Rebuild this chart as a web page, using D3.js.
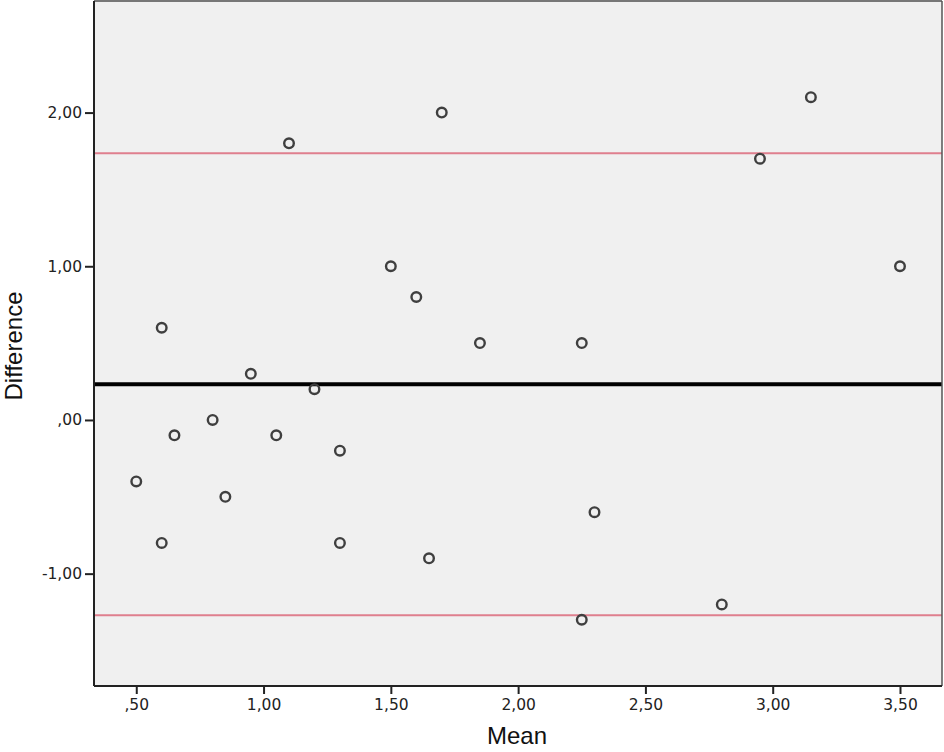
<!DOCTYPE html>
<html><head><meta charset="utf-8">
<script src="https://cdn.jsdelivr.net/npm/d3@7"></script>
<style>body{margin:0;background:#fff}</style>
</head><body>
<script>
const meanVals = [0.5,0.6,0.6,0.65,0.8,0.85,0.95,1.05,1.1,1.2,1.3,1.3,1.5,1.6,1.65,1.7,1.85,2.25,2.25,2.3,2.8,2.95,3.15,3.5];
const diffVals = [-0.4,0.6,-0.8,-0.1,0.0,-0.5,0.3,-0.1,1.8,0.2,-0.2,-0.8,1.0,0.8,-0.9,2.0,0.5,0.5,-1.3,-0.6,-1.2,1.7,2.1,1.0];
const meanDiff = 0.233;
const upperLoA = 1.735;
const lowerLoA = -1.27;
const xTicks = [0.5,1.0,1.5,2.0,2.5,3.0,3.5];
const yTicks = [-1,0,1,2];

const W=944,H=752;
const L=94,R=942,T=1,B=686;
const svg=d3.select("body").append("svg").attr("width",W).attr("height",H);
const x=d3.scaleLinear().domain([0.334,3.665]).range([L,R]);
const y=d3.scaleLinear().domain([-1.731,2.726]).range([B,T]);
const fmt=v=>{let s=d3.format(".2f")(v).replace("\u2212","-").replace(".",",");return s.replace(/^0,/,",").replace(/^-0,/,"-,");};

svg.append("rect").attr("x",L).attr("y",T).attr("width",R-L).attr("height",B-T).attr("fill","#f0f0f0");

const ref=[{v:upperLoA,c:"#df7f8e",w:2},{v:lowerLoA,c:"#df7f8e",w:2},{v:meanDiff,c:"#000",w:4}];
svg.selectAll("line.ref").data(ref).join("line").attr("class","ref")
 .attr("x1",L).attr("x2",R).attr("y1",d=>y(d.v)).attr("y2",d=>y(d.v))
 .attr("stroke",d=>d.c).attr("stroke-width",d=>d.w);

const pts=meanVals.map((m,i)=>({m,d:diffVals[i]}));
svg.selectAll("circle.pt").data(pts).join("circle").attr("class","pt")
 .attr("cx",d=>x(d.m)).attr("cy",d=>y(d.d)).attr("r",4.8)
 .attr("fill","none").attr("stroke","#3f3f3f").attr("stroke-width",2.4);

// frame
svg.append("line").attr("x1",L).attr("x2",R).attr("y1",T).attr("y2",T).attr("stroke","#777").attr("stroke-width",2);
svg.append("line").attr("x1",R).attr("x2",R).attr("y1",T).attr("y2",B).attr("stroke","#555").attr("stroke-width",1.5);
svg.append("line").attr("x1",L).attr("x2",R).attr("y1",B).attr("y2",B).attr("stroke","#222").attr("stroke-width",2);
svg.append("line").attr("x1",L).attr("x2",L).attr("y1",T).attr("y2",B).attr("stroke","#222").attr("stroke-width",2);

const xAxis=d3.axisBottom(x).tickValues(xTicks).tickFormat(fmt).tickSize(7).tickPadding(5);
const gx=svg.append("g").attr("transform",`translate(0,${B+1})`).call(xAxis);
gx.select(".domain").remove();
gx.selectAll(".tick line").attr("stroke","#222").attr("stroke-width",2);
gx.selectAll("text").attr("font-family","DejaVu Sans").attr("font-size",15.5).attr("fill","#222");

const yAxis=d3.axisLeft(y).tickValues(yTicks).tickFormat(fmt).tickSize(8).tickPadding(3);
const gy=svg.append("g").attr("transform",`translate(${L-1},0)`).call(yAxis);
gy.select(".domain").remove();
gy.selectAll(".tick line").attr("stroke","#222").attr("stroke-width",2);
gy.selectAll("text").attr("font-family","DejaVu Sans").attr("font-size",15.5).attr("fill","#222");

svg.append("text").attr("x",517).attr("y",744).attr("text-anchor","middle")
 .attr("font-family","Liberation Sans, Arial").attr("font-size",24).attr("fill","#111").text("Mean");
svg.append("text").attr("transform","translate(22,346) rotate(-90)").attr("text-anchor","middle")
 .attr("font-family","Liberation Sans, Arial").attr("font-size",24).attr("fill","#111").text("Difference");
</script>
</body></html>
